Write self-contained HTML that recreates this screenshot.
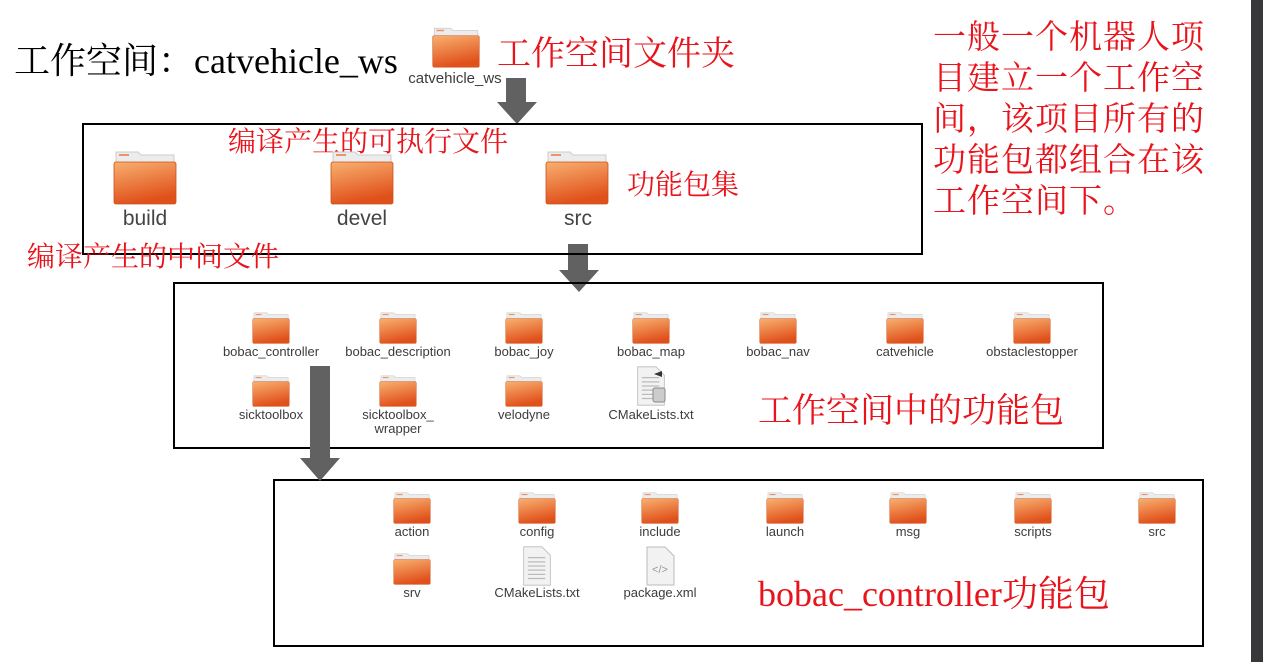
<!DOCTYPE html>
<html><head><meta charset="utf-8"><style>
body{margin:0;width:1263px;height:662px;background:#fff;position:relative;overflow:hidden;font-family:"Liberation Sans","Noto Sans CJK SC",sans-serif}
.a{position:absolute;white-space:nowrap}
.r{color:#e8131b;font-family:"Liberation Serif","Noto Serif CJK SC",serif}
.box{position:absolute;border:2px solid #000}
.lbl{position:absolute;font-size:13px;color:#3c3c3c;text-align:center;width:140px;line-height:14px}
.big{position:absolute;font-size:21px;color:#444;text-align:center;width:120px}
svg{position:absolute}
</style></head><body>
<svg width="0" height="0" style="position:absolute"><defs>
<linearGradient id="g" x1="0" y1="0" x2="0.3" y2="1"><stop offset="0" stop-color="#f8b070"/><stop offset="1" stop-color="#e0501a"/></linearGradient>
<symbol id="f" viewBox="0 0 64 56"><path d="M3 3h22l3 3h33v12H3z" fill="#ececec" stroke="#ccc"/><rect x="6" y="5" width="10" height="2" fill="#e8956a"/><rect x="1" y="13" width="62" height="42" rx="2" fill="url(#g)" stroke="#c9521e" stroke-width="0.8"/></symbol>
<symbol id="d" viewBox="0 0 40 48"><path d="M4 1h22l10 10v36H4z" fill="#f2f2f2" stroke="#bbb"/><g stroke="#bbb" stroke-width="1.5"><line x1="9" y1="14" x2="30" y2="14"/><line x1="9" y1="19" x2="30" y2="19"/><line x1="9" y1="24" x2="30" y2="24"/><line x1="9" y1="29" x2="30" y2="29"/><line x1="9" y1="34" x2="30" y2="34"/><line x1="9" y1="39" x2="30" y2="39"/></g></symbol>
</defs></svg>

<div class="a" style="left:14px;top:33px;font-size:36px;font-family:'Liberation Serif','Noto Serif CJK SC',serif;color:#000">工作空间：catvehicle_ws</div>
<svg style="left:431px;top:26px" width="50" height="42"><use href="#f" width="50" height="42"/></svg>
<div class="lbl" style="left:385px;top:72px;font-size:15px;width:140px">catvehicle_ws</div>
<div class="a r" style="left:497px;top:26px;font-size:34px">工作空间文件夹</div>
<div class="a r" style="left:933px;top:18px;font-size:33px;line-height:41px;white-space:normal;width:290px;letter-spacing:1px">一般一个机器人项<br>目建立一个工作空<br>间，该项目所有的<br>功能包都组合在该<br>工作空间下。</div>

<svg style="left:495px;top:78px" width="44" height="46"><path d="M11 0h20v24h11L22 46 2 24h9z" fill="#616161"/></svg>
<svg style="left:557px;top:244px" width="44" height="48"><path d="M11 0h20v26h11L22 48 2 26h9z" fill="#616161"/></svg>

<div class="box" style="left:82px;top:123px;width:837px;height:128px"></div>
<div class="box" style="left:173px;top:282px;width:927px;height:163px"></div>
<div class="box" style="left:273px;top:479px;width:927px;height:164px"></div>

<svg style="left:298px;top:366px" width="44" height="115"><path d="M12 0h20v92h10L22 115 2 92h10z" fill="#616161"/></svg>

<div class="a r" style="left:228px;top:120px;font-size:28px">编译产生的可执行文件</div>
<div class="a r" style="left:627px;top:163px;font-size:28px">功能包集</div>
<div class="a r" style="left:27px;top:235px;font-size:28px">编译产生的中间文件</div>

<svg style="left:112px;top:149px" width="66" height="56"><use href="#f" width="66" height="56"/></svg>
<svg style="left:329px;top:149px" width="66" height="56"><use href="#f" width="66" height="56"/></svg>
<svg style="left:544px;top:149px" width="66" height="56"><use href="#f" width="66" height="56"/></svg>
<div class="big" style="left:85px;top:207px">build</div>
<div class="big" style="left:302px;top:207px">devel</div>
<div class="big" style="left:518px;top:207px">src</div>

<svg style="left:252px;top:311px" width="38" height="33"><use href="#f" width="38" height="33"/></svg>
<svg style="left:379px;top:311px" width="38" height="33"><use href="#f" width="38" height="33"/></svg>
<svg style="left:505px;top:311px" width="38" height="33"><use href="#f" width="38" height="33"/></svg>
<svg style="left:632px;top:311px" width="38" height="33"><use href="#f" width="38" height="33"/></svg>
<svg style="left:759px;top:311px" width="38" height="33"><use href="#f" width="38" height="33"/></svg>
<svg style="left:886px;top:311px" width="38" height="33"><use href="#f" width="38" height="33"/></svg>
<svg style="left:1013px;top:311px" width="38" height="33"><use href="#f" width="38" height="33"/></svg>
<div class="lbl" style="left:201px;top:345px">bobac_controller</div>
<div class="lbl" style="left:328px;top:345px">bobac_description</div>
<div class="lbl" style="left:454px;top:345px">bobac_joy</div>
<div class="lbl" style="left:581px;top:345px">bobac_map</div>
<div class="lbl" style="left:708px;top:345px">bobac_nav</div>
<div class="lbl" style="left:835px;top:345px">catvehicle</div>
<div class="lbl" style="left:962px;top:345px">obstaclestopper</div>
<svg style="left:252px;top:374px" width="38" height="33"><use href="#f" width="38" height="33"/></svg>
<svg style="left:379px;top:374px" width="38" height="33"><use href="#f" width="38" height="33"/></svg>
<svg style="left:505px;top:374px" width="38" height="33"><use href="#f" width="38" height="33"/></svg>
<svg style="left:634px;top:366px" width="34" height="40"><use href="#d" width="34" height="40"/><rect x="19" y="22" width="12" height="14" rx="2" fill="#ccc" stroke="#888"/><path d="M20 8l8 -3v6z" fill="#333"/></svg>
<div class="lbl" style="left:201px;top:408px">sicktoolbox</div>
<div class="lbl" style="left:328px;top:408px">sicktoolbox_<br>wrapper</div>
<div class="lbl" style="left:454px;top:408px">velodyne</div>
<div class="lbl" style="left:581px;top:408px">CMakeLists.txt</div>
<div class="a r" style="left:758px;top:383px;font-size:34px">工作空间中的功能包</div>

<svg style="left:393px;top:491px" width="38" height="33"><use href="#f" width="38" height="33"/></svg>
<svg style="left:518px;top:491px" width="38" height="33"><use href="#f" width="38" height="33"/></svg>
<svg style="left:641px;top:491px" width="38" height="33"><use href="#f" width="38" height="33"/></svg>
<svg style="left:766px;top:491px" width="38" height="33"><use href="#f" width="38" height="33"/></svg>
<svg style="left:889px;top:491px" width="38" height="33"><use href="#f" width="38" height="33"/></svg>
<svg style="left:1014px;top:491px" width="38" height="33"><use href="#f" width="38" height="33"/></svg>
<svg style="left:1138px;top:491px" width="38" height="33"><use href="#f" width="38" height="33"/></svg>
<div class="lbl" style="left:342px;top:525px">action</div>
<div class="lbl" style="left:467px;top:525px">config</div>
<div class="lbl" style="left:590px;top:525px">include</div>
<div class="lbl" style="left:715px;top:525px">launch</div>
<div class="lbl" style="left:838px;top:525px">msg</div>
<div class="lbl" style="left:963px;top:525px">scripts</div>
<div class="lbl" style="left:1087px;top:525px">src</div>
<svg style="left:393px;top:552px" width="38" height="33"><use href="#f" width="38" height="33"/></svg>
<svg style="left:520px;top:546px" width="34" height="40"><use href="#d" width="34" height="40"/></svg>
<svg style="left:643px;top:546px" width="34" height="40"><path d="M4 1h18l9 9v29H4z" fill="#f2f2f2" stroke="#bbb"/><text x="17" y="27" font-size="11" fill="#999" text-anchor="middle" font-family="Liberation Sans">&lt;/&gt;</text></svg>
<div class="lbl" style="left:342px;top:586px">srv</div>
<div class="lbl" style="left:467px;top:586px">CMakeLists.txt</div>
<div class="lbl" style="left:590px;top:586px">package.xml</div>
<div class="a r" style="left:758px;top:566px;font-size:36px">bobac_controller功能包</div>

<div class="a" style="left:1251px;top:0;width:12px;height:662px;background:#38383a"></div>
</body></html>
